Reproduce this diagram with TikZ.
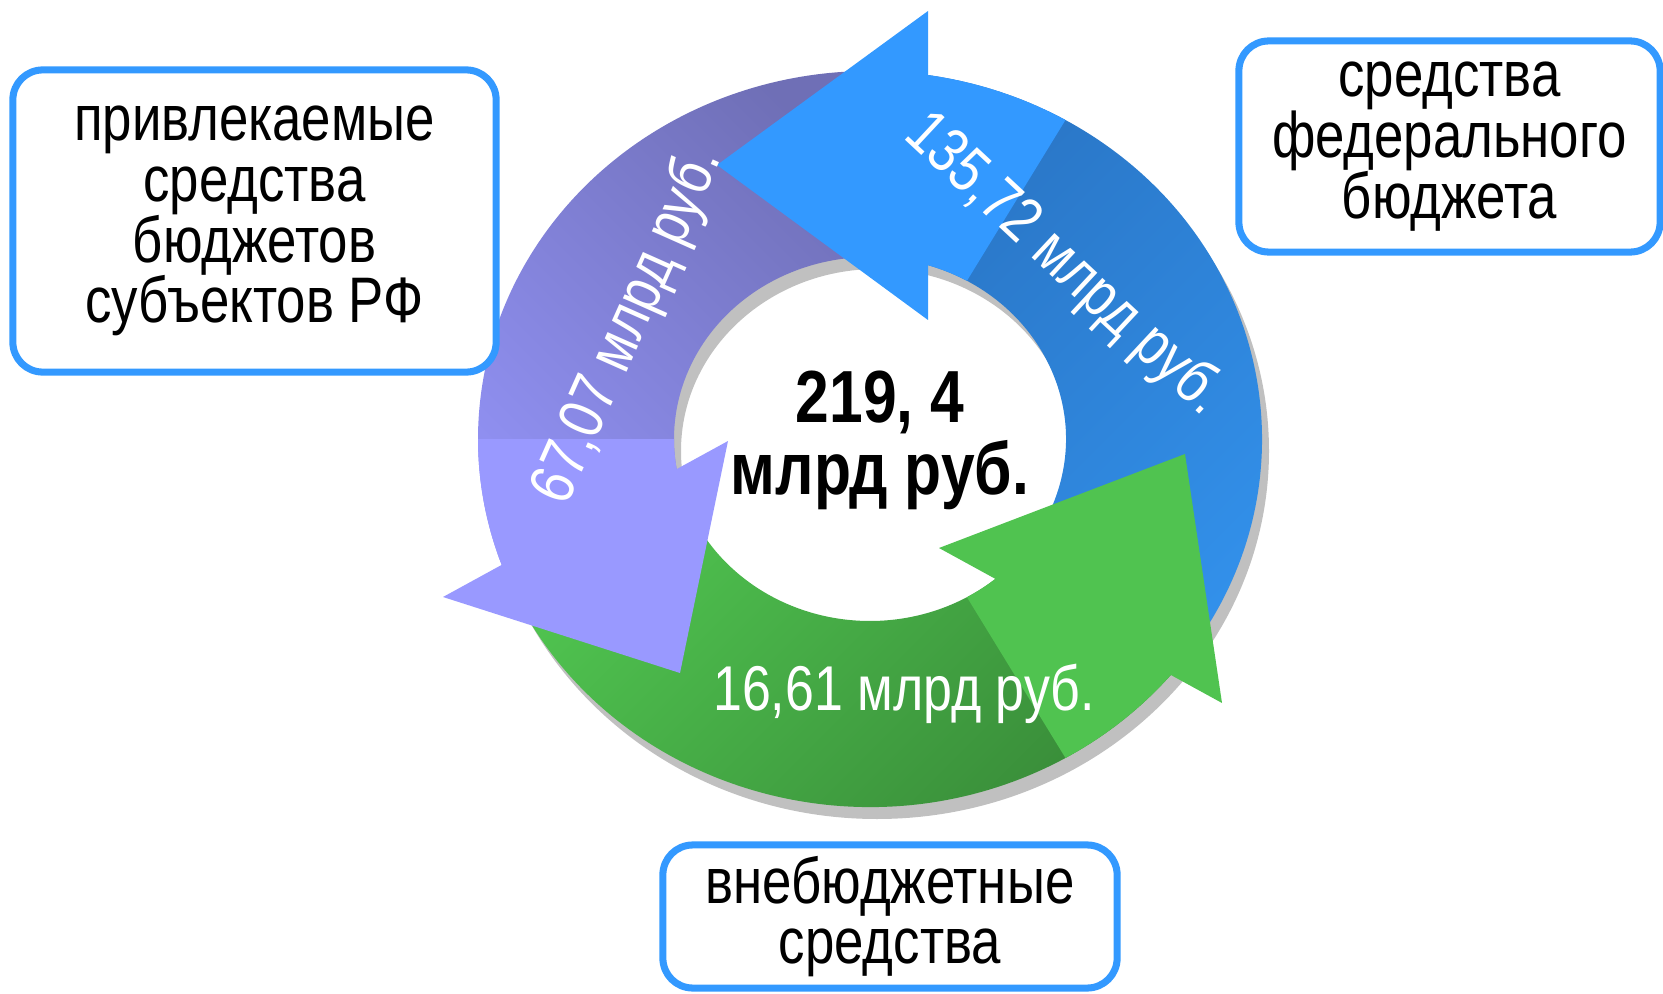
\documentclass[tikz,border=0pt]{standalone}
\usepackage{fontspec}
\setmainfont{Liberation Sans}[FakeStretch=0.82]
\usepackage{xcolor}
\usetikzlibrary{positioning}

\definecolor{boxblue}{HTML}{3399FF}
\definecolor{bluelight}{HTML}{3399FF}
\definecolor{bluedarkA}{HTML}{2A76C6}
\definecolor{bluedarkB}{HTML}{3290EA}
\definecolor{purplelight}{HTML}{9999FF}
\definecolor{purpledarkA}{HTML}{6F6FB6}
\definecolor{purpledarkB}{HTML}{9090F2}
\definecolor{greenlight}{HTML}{50C350}
\definecolor{greendarkA}{HTML}{4FC24F}
\definecolor{greendarkB}{HTML}{388A38}
\definecolor{shadowgray}{HTML}{C0C0C0}

% one piece of the ring: outer arc #1 -> #2, inner arc #3 -> #4
\newcommand{\ringpart}[4]{(#1:392 and 368) arc[start angle=#1, end angle=#2, x radius=392, y radius=368]
    -- (#3:196 and 182) arc[start angle=#3, end angle=#4, x radius=196, y radius=182] -- cycle}

\begin{document}
\begin{tikzpicture}[x=0.01cm, y=0.01cm,
    srcbox/.style={draw=boxblue, line width=2pt, rounded corners=8.5pt, fill=white,
        align=center, inner sep=0pt, font=\fontsize{18.3}{17.3}\selectfont},
    ringlabel/.style={text=white, inner sep=0pt, font=\fontsize{18}{18}\selectfont}]
    \useasboundingbox (0,0) rectangle (1663,993);
    \begin{scope}[shift={(870,554)}]
        % shadow of the ring
        \fill[shadowgray, even odd rule] (7,-12) ellipse [x radius=392, y radius=368]
            (7,-12) ellipse [x radius=196, y radius=182];
        % bands
        \shade[top color=bluedarkA, bottom color=bluedarkB, shading angle=45] \ringpart{-35}{83}{74.3}{-45};
        \begin{scope}
            \clip \ringpart{-35}{83}{74.3}{-45};
            \fill[bluelight] (0,0) -- (58.5:1000) -- (138.5:1000) -- cycle;
        \end{scope}
        \shade[top color=purpledarkA, bottom color=purpledarkB, shading angle=-45] \ringpart{88}{201.5}{191}{85};
        \begin{scope}
            \clip \ringpart{88}{201.5}{191}{85};
            \fill[purplelight] (0,0) -- (180:1000) -- (260:1000) -- cycle;
        \end{scope}
        \shade[top color=greendarkA, bottom color=greendarkB, shading angle=45] \ringpart{205}{321.6}{311.3}{200};
        \begin{scope}
            \clip \ringpart{205}{321.6}{311.3}{200};
            \fill[greenlight] (0,0) -- (301.5:1000) -- (381.5:1000) -- cycle;
        \end{scope}
        % heads
        \coordinate (B1) at (-153,274);
        \coordinate (B2) at (58,428);
        \coordinate (B3) at (58,119);
        \coordinate (P1) at (-190,-234);
        \coordinate (P2) at (-427,-158);
        \coordinate (P3) at (-142,-2);
        \coordinate (G1) at (315,-15);
        \coordinate (G2) at (69,-109);
        \coordinate (G3) at (352,-264);
        \fill[bluelight] (B1) -- (B2) -- (B3) -- cycle;
        \fill[purplelight] (P1) -- (P2) -- (P3) -- cycle;
        \fill[greenlight] (G1) -- (G2) -- (G3) -- cycle;
        % amounts
        \node[ringlabel, rotate=-43] (fedsum) at (194,174) {135,72 млрд руб.};
        \node[ringlabel, rotate=66] (subjsum) at (-241,113) {67,07 млрд руб.};
        \node[ringlabel, anchor=base] (extrasum) at (34,-271) {16,61 млрд руб.};
        \node[align=center, font=\fontsize{21}{20.5}\selectfont\bfseries] (total) at (10,-1.5) {219, 4\\млрд руб.};
    \end{scope}
    \node[srcbox, minimum width=4.83cm, minimum height=3.02cm] (subj) at (254.5,772)
        {привлекаемые\\средства\\бюджетов\\субъектов РФ};
    \node[srcbox, minimum width=4.21cm, minimum height=2.11cm] (fed) at (1449.5,846.5)
        {средства\\федерального\\бюджета};
    \node[srcbox, minimum width=4.54cm, minimum height=1.43cm] (extra) at (890,76.5)
        {внебюджетные\\средства};
\end{tikzpicture}
\end{document}
